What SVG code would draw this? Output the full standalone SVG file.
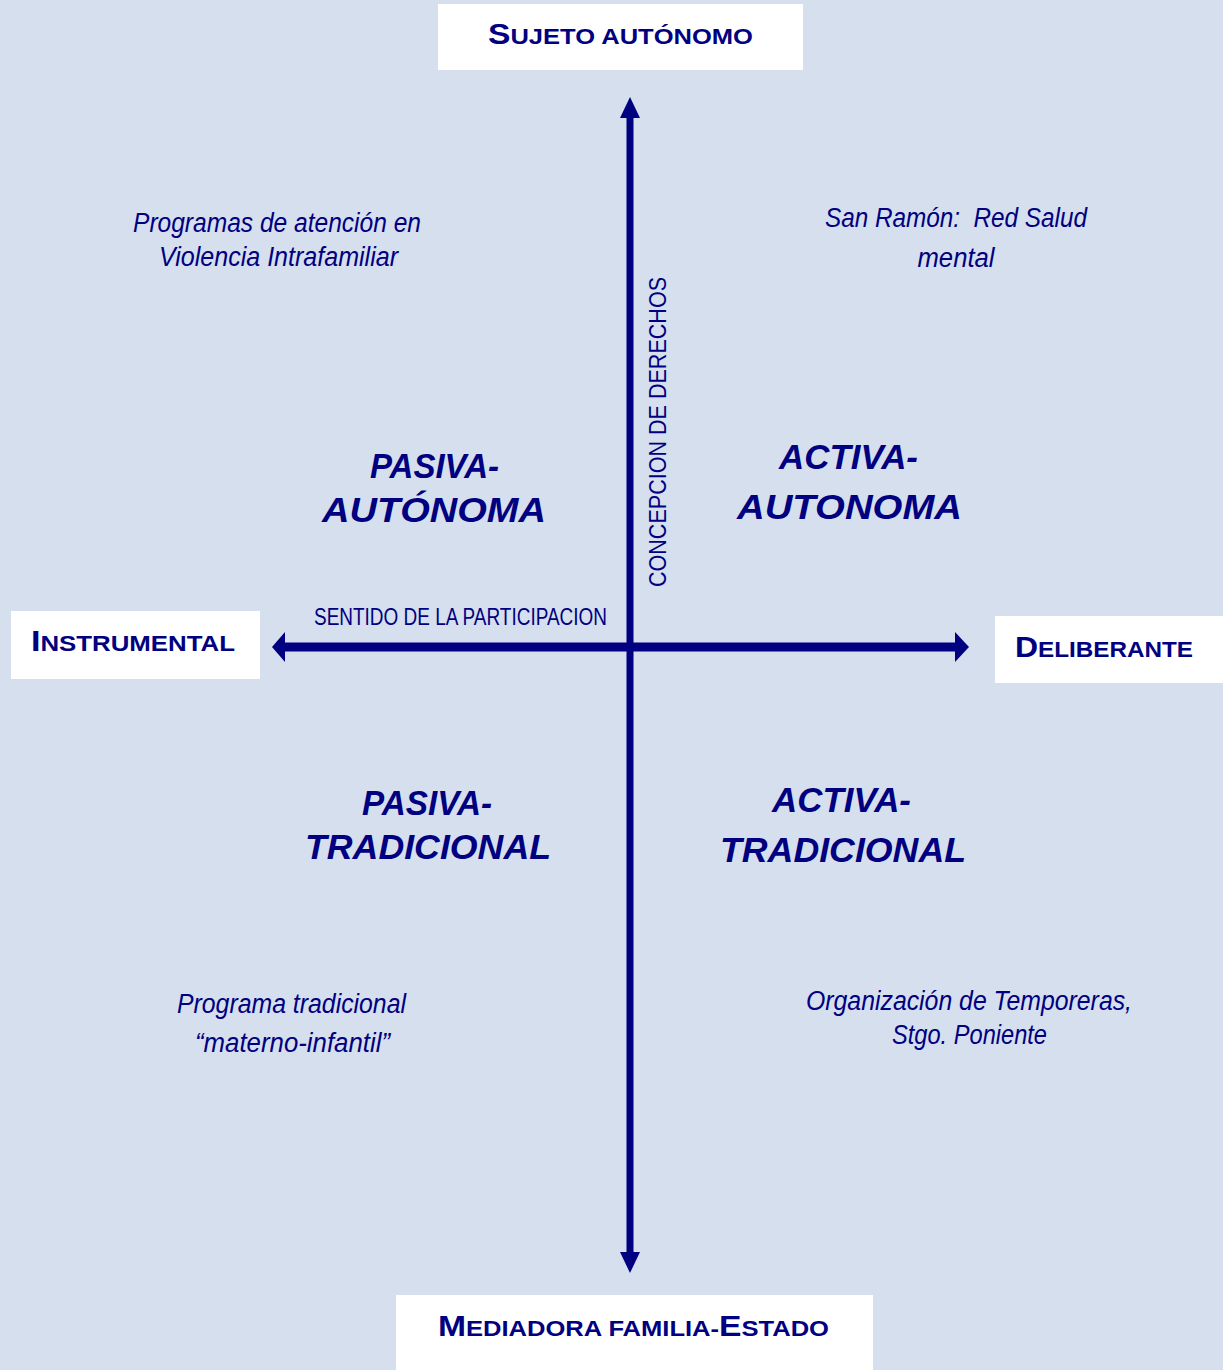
<svg xmlns="http://www.w3.org/2000/svg" width="1223" height="1370" viewBox="0 0 1223 1370">
<style>
.box{fill:#ffffff}
.lab{font-family:"Liberation Sans",Arial,sans-serif;font-weight:bold;fill:#000080}
.big{font-size:29px}
.sm{font-size:22px}
.quad{font-family:"Liberation Sans",Arial,sans-serif;font-weight:bold;font-style:italic;font-size:35px;fill:#000080}
.ex{font-family:"Liberation Sans",Arial,sans-serif;font-style:italic;font-size:27px;fill:#000080;white-space:pre}
.ax{font-family:"Liberation Sans",Arial,sans-serif;font-size:23px;fill:#000080}
.line{stroke:#000080;fill:none}
.head{fill:#000080}
</style>
<rect width="1223" height="1370" fill="#D6DFEE"/>
<g id="connectors">
<line class="line" x1="630" y1="115" x2="630" y2="1256" stroke-width="7"/>
<polygon class="head" points="630,97 620,118 640,118"/>
<polygon class="head" points="630,1273 620,1252 640,1252"/>
<line class="line" x1="282" y1="647" x2="958" y2="647" stroke-width="9"/>
<polygon class="head" points="272,647 285,632 285,662"/>
<polygon class="head" points="969,647 955,632 955,662"/>
</g>
<g id="node-top">
<rect class="box" x="438" y="4" width="365" height="66"/>
<text class="lab sm" x="620.5" y="44" text-anchor="middle" textLength="265" lengthAdjust="spacingAndGlyphs"><tspan class="big">S</tspan>UJETO AUTÓNOMO</text>
</g>
<g id="node-left">
<rect class="box" x="11" y="611" width="249" height="68"/>
<text class="lab sm" x="133" y="651" text-anchor="middle" textLength="204" lengthAdjust="spacingAndGlyphs"><tspan class="big">I</tspan>NSTRUMENTAL</text>
</g>
<g id="node-right">
<rect class="box" x="995" y="616" width="228" height="67"/>
<text class="lab sm" x="1104" y="657" text-anchor="middle" textLength="178" lengthAdjust="spacingAndGlyphs"><tspan class="big">D</tspan>ELIBERANTE</text>
</g>
<g id="node-bottom">
<rect class="box" x="396" y="1295" width="477" height="75"/>
<text class="lab sm" x="633.5" y="1336" text-anchor="middle" textLength="391" lengthAdjust="spacingAndGlyphs"><tspan class="big">M</tspan>EDIADORA FAMILIA-<tspan class="big">E</tspan>STADO</text>
</g>
<g id="axis-labels">
<text class="ax" x="460.5" y="625" text-anchor="middle" textLength="293" lengthAdjust="spacingAndGlyphs">SENTIDO DE LA PARTICIPACION</text>
<text class="ax" transform="translate(666,432) rotate(-90)" x="0" y="0" text-anchor="middle" textLength="310" lengthAdjust="spacingAndGlyphs">CONCEPCION DE DERECHOS</text>
</g>
<g id="quad-pasiva-autonoma">
<text class="quad" x="434.5" y="478" text-anchor="middle" textLength="129" lengthAdjust="spacingAndGlyphs">PASIVA-</text>
<text class="quad" x="434" y="522" text-anchor="middle" textLength="224" lengthAdjust="spacingAndGlyphs">AUTÓNOMA</text>
</g>
<g id="quad-activa-autonoma">
<text class="quad" x="848.5" y="469" text-anchor="middle" textLength="139" lengthAdjust="spacingAndGlyphs">ACTIVA-</text>
<text class="quad" x="849.5" y="519" text-anchor="middle" textLength="225" lengthAdjust="spacingAndGlyphs">AUTONOMA</text>
</g>
<g id="quad-pasiva-tradicional">
<text class="quad" x="427" y="815" text-anchor="middle" textLength="130" lengthAdjust="spacingAndGlyphs">PASIVA-</text>
<text class="quad" x="428" y="859" text-anchor="middle" textLength="246" lengthAdjust="spacingAndGlyphs">TRADICIONAL</text>
</g>
<g id="quad-activa-tradicional">
<text class="quad" x="841.5" y="812" text-anchor="middle" textLength="139" lengthAdjust="spacingAndGlyphs">ACTIVA-</text>
<text class="quad" x="843" y="862" text-anchor="middle" textLength="246" lengthAdjust="spacingAndGlyphs">TRADICIONAL</text>
</g>
<g id="example-vif">
<text class="ex" x="277" y="232" text-anchor="middle" textLength="288" lengthAdjust="spacingAndGlyphs">Programas de atención en</text>
<text class="ex" x="278.5" y="266" text-anchor="middle" textLength="239" lengthAdjust="spacingAndGlyphs">Violencia Intrafamiliar</text>
</g>
<g id="example-sanramon">
<text class="ex" x="956" y="227" text-anchor="middle" textLength="262" lengthAdjust="spacingAndGlyphs">San Ramón:  Red Salud</text>
<text class="ex" x="956" y="267" text-anchor="middle" textLength="77" lengthAdjust="spacingAndGlyphs">mental</text>
</g>
<g id="example-materno">
<text class="ex" x="291.5" y="1013" text-anchor="middle" textLength="229" lengthAdjust="spacingAndGlyphs">Programa tradicional</text>
<text class="ex" x="292.5" y="1052" text-anchor="middle" textLength="195" lengthAdjust="spacingAndGlyphs">“materno-infantil”</text>
</g>
<g id="example-temporeras">
<text class="ex" x="969" y="1010" text-anchor="middle" textLength="326" lengthAdjust="spacingAndGlyphs">Organización de Temporeras,</text>
<text class="ex" x="969.5" y="1044" text-anchor="middle" textLength="155" lengthAdjust="spacingAndGlyphs">Stgo. Poniente</text>
</g>
</svg>
